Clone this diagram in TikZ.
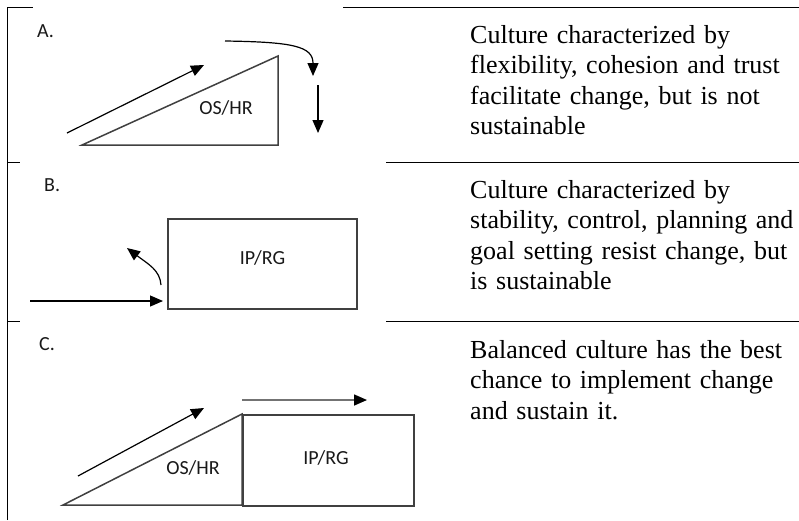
\documentclass[tikz,border=0pt]{standalone}
\usepackage{fontspec}
\setmainfont{Liberation Serif}
\newfontfamily\labelfont{Carlito}
\usetikzlibrary{arrows.meta}

\begin{document}
\begin{tikzpicture}[x=1pt, y=-1pt,
        rule/.style={line width=0.9pt},
        outline/.style={draw=black!75, line width=1.5pt},
        flow/.style={-{Triangle[length=13pt,width=11pt,color=black]}, line width=1.2pt},
        tag/.style={font=\labelfont\fontsize{20}{24}\selectfont, text=black!90, inner sep=0pt},
        desc/.style={font=\fontsize{26}{30.5}\selectfont, anchor=base west, text width=330pt, align=left, inner sep=0pt}]
        \useasboundingbox (0,0) rectangle (799,520);

        % table rules
        \draw[rule] (7,520) -- (7,7) -- (33,7);
        \draw[rule] (343,7) -- (799,7);
        \draw[rule] (7,162) -- (20,162);
        \draw[rule] (386,162) -- (799,162);
        \draw[rule] (7,321) -- (20,321);
        \draw[rule] (386,321) -- (799,321);

        % A
        \node[tag, anchor=base west] (labA) at (37,37) {A.};
        \coordinate (triA1) at (82,145);
        \coordinate (triA2) at (278,145);
        \coordinate (triA3) at (278,56);
        \draw[outline] (triA1) -- (triA2) -- (triA3) -- cycle;
        \node[tag] (osA) at (226,108) {OS/HR};
        \coordinate (riseA0) at (67,133);
        \coordinate (riseA1) at (204,65);
        \draw[flow] (riseA0) -- (riseA1);
        \coordinate (turnA0) at (225,41);
        \coordinate (turnA1) at (313,76);
        \draw[flow] (turnA0) .. controls (292,42) and (313,46) .. (turnA1);
        \coordinate (fallA0) at (318,85);
        \coordinate (fallA1) at (318,133);
        \draw[flow] (fallA0) -- (fallA1);
        \node[desc] (txtA) at (470,43) {Culture characterized by\\ flexibility, cohesion and trust\\ facilitate change, but is not\\ sustainable};

        % B
        \node[tag, anchor=base west] (labB) at (44,191) {B.};
        \node[outline, rectangle, minimum width=189pt, minimum height=90pt, inner sep=0pt] (boxB) at (262.5,264) {};
        \node[tag] (ipB) at ([yshift=6pt]boxB.center) {IP/RG};
        \coordinate (pushB0) at (30,301);
        \coordinate (pushB1) at (163,301);
        \draw[flow] (pushB0) -- (pushB1);
        \coordinate (backB0) at (161,285);
        \coordinate (backB1) at (127,248);
        \draw[flow] (backB0) .. controls (160,270) and (148,264) .. (backB1);
        \node[desc] (txtB) at (470,198) {Culture characterized by\\ stability, control, planning and\\ goal setting resist change, but\\ is sustainable};

        % C
        \node[tag, anchor=base west] (labC) at (39,350) {C.};
        \coordinate (triC1) at (63,505);
        \coordinate (triC2) at (242,505);
        \coordinate (triC3) at (242,414);
        \draw[outline] (triC1) -- (triC2) -- (triC3) -- cycle;
        \node[outline, rectangle, minimum width=171pt, minimum height=91pt, inner sep=0pt, anchor=north west] (boxC) at (triC3) {};
        \node[tag] (osC) at (193,468) {OS/HR};
        \node[tag] (ipC) at (326,458) {IP/RG};
        \coordinate (riseC0) at (78,476);
        \coordinate (riseC1) at (204,408);
        \draw[flow] (riseC0) -- (riseC1);
        \coordinate (keepC0) at (242,400);
        \coordinate (keepC1) at (367,400);
        \draw[flow, draw=black!55, line width=1.6pt] (keepC0) -- (keepC1);
        \node[desc] (txtC) at (470,358) {Balanced culture has the best\\ chance to implement change\\ and sustain it.};
    \end{tikzpicture}
\end{document}
